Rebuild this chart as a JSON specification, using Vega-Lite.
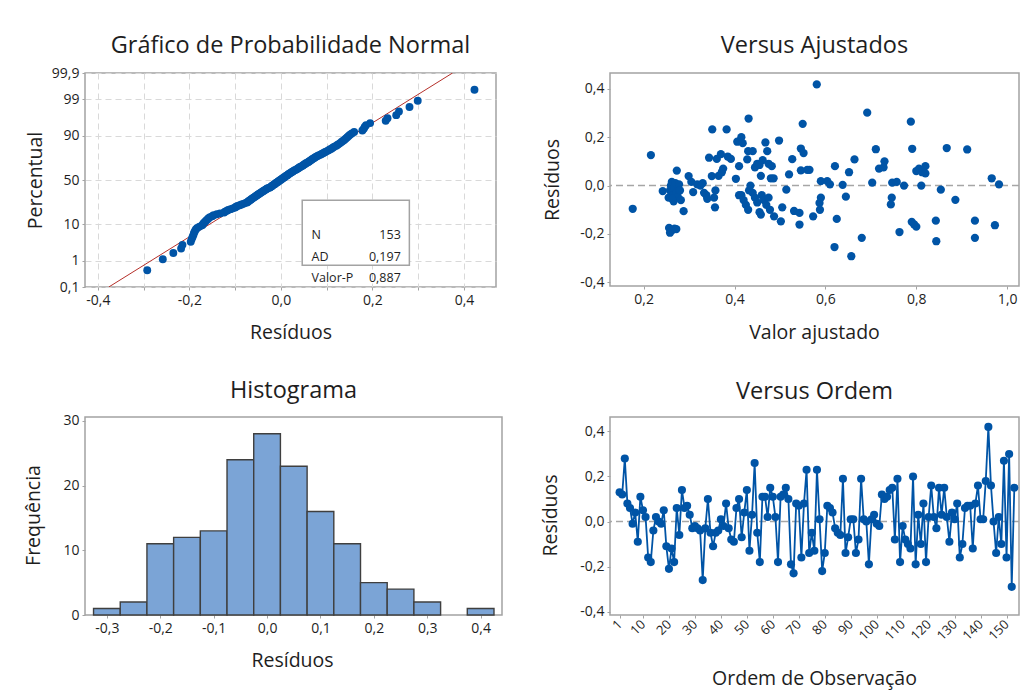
{
  "$schema": "https://vega.github.io/schema/vega-lite/v6.json",
  "background": "white",
  "padding": {"left": 22, "top": 32, "right": 5, "bottom": 5},
  "columns": 2,
  "bounds": "flush",
  "spacing": {"row": 130, "column": 108},
  "config": {
    "font": "Open Sans",
    "view": {"stroke": "#a3a3a3", "strokeWidth": 1.5},
    "axis": {"domain": false, "grid": false, "tickColor": "#a3a3a3", "tickSize": 3, "tickCount": 40, "labelFontSize": 14, "labelColor": "#1e1e1e", "labelPadding": 3, "labelFlush": false, "labelOverlap": false, "labelBound": false, "titleFontSize": 19.5, "titleFontWeight": "normal", "titleColor": "#1e1e1e", "titleBaseline": "alphabetic"},
    "title": {"fontSize": 23.5, "fontWeight": "normal", "color": "#1e1e1e", "frame": "group", "anchor": "middle", "offset": 11}
  },
  "datasets": {
    "hist": [
      {"x0": -0.325, "x1": -0.275, "n": 1},
      {"x0": -0.275, "x1": -0.225, "n": 2},
      {"x0": -0.225, "x1": -0.175, "n": 11},
      {"x0": -0.175, "x1": -0.125, "n": 12},
      {"x0": -0.125, "x1": -0.075, "n": 13},
      {"x0": -0.075, "x1": -0.025, "n": 24},
      {"x0": -0.025, "x1": 0.025, "n": 28},
      {"x0": 0.025, "x1": 0.075, "n": 23},
      {"x0": 0.075, "x1": 0.125, "n": 16},
      {"x0": 0.125, "x1": 0.175, "n": 11},
      {"x0": 0.175, "x1": 0.225, "n": 5},
      {"x0": 0.225, "x1": 0.275, "n": 4},
      {"x0": 0.275, "x1": 0.325, "n": 2},
      {"x0": 0.375, "x1": 0.425, "n": 1}
    ],
    "probline": [{"r": -0.376, "z": -3.0902}, {"r": 0.375, "z": 3.0902}],
    "prob": [
      {"r": -0.292, "z": -2.608}, {"r": -0.258, "z": -2.289}, {"r": -0.235, "z": -2.110}, {"r": -0.218, "z": -1.977}, {"r": -0.215, "z": -1.872},
      {"r": -0.197, "z": -1.786}, {"r": -0.195, "z": -1.710}, {"r": -0.193, "z": -1.643}, {"r": -0.191, "z": -1.583}, {"r": -0.190, "z": -1.529},
      {"r": -0.188, "z": -1.478}, {"r": -0.186, "z": -1.431}, {"r": -0.183, "z": -1.387}, {"r": -0.178, "z": -1.345}, {"r": -0.172, "z": -1.306},
      {"r": -0.170, "z": -1.269}, {"r": -0.168, "z": -1.233}, {"r": -0.165, "z": -1.199}, {"r": -0.163, "z": -1.166}, {"r": -0.160, "z": -1.134},
      {"r": -0.158, "z": -1.103}, {"r": -0.155, "z": -1.074}, {"r": -0.150, "z": -1.045}, {"r": -0.147, "z": -1.017}, {"r": -0.140, "z": -0.990},
      {"r": -0.133, "z": -0.964}, {"r": -0.124, "z": -0.938}, {"r": -0.122, "z": -0.913}, {"r": -0.118, "z": -0.889}, {"r": -0.115, "z": -0.865},
      {"r": -0.110, "z": -0.842}, {"r": -0.105, "z": -0.818}, {"r": -0.100, "z": -0.795}, {"r": -0.098, "z": -0.773}, {"r": -0.095, "z": -0.752},
      {"r": -0.090, "z": -0.730}, {"r": -0.086, "z": -0.708}, {"r": -0.082, "z": -0.688}, {"r": -0.078, "z": -0.667}, {"r": -0.074, "z": -0.647},
      {"r": -0.072, "z": -0.627}, {"r": -0.070, "z": -0.607}, {"r": -0.068, "z": -0.588}, {"r": -0.066, "z": -0.568}, {"r": -0.064, "z": -0.549},
      {"r": -0.062, "z": -0.530}, {"r": -0.060, "z": -0.512}, {"r": -0.058, "z": -0.493}, {"r": -0.056, "z": -0.475}, {"r": -0.054, "z": -0.457},
      {"r": -0.052, "z": -0.439}, {"r": -0.050, "z": -0.420}, {"r": -0.048, "z": -0.402}, {"r": -0.046, "z": -0.385}, {"r": -0.044, "z": -0.367},
      {"r": -0.042, "z": -0.350}, {"r": -0.040, "z": -0.333}, {"r": -0.038, "z": -0.315}, {"r": -0.036, "z": -0.298}, {"r": -0.034, "z": -0.281},
      {"r": -0.032, "z": -0.264}, {"r": -0.030, "z": -0.247}, {"r": -0.027, "z": -0.231}, {"r": -0.024, "z": -0.214}, {"r": -0.022, "z": -0.197},
      {"r": -0.020, "z": -0.180}, {"r": -0.019, "z": -0.164}, {"r": -0.017, "z": -0.148}, {"r": -0.015, "z": -0.131}, {"r": -0.013, "z": -0.115},
      {"r": -0.012, "z": -0.098}, {"r": -0.010, "z": -0.081}, {"r": -0.008, "z": -0.065}, {"r": -0.006, "z": -0.049}, {"r": -0.005, "z": -0.033},
      {"r": -0.003, "z": -0.016}, {"r": -0.001, "z": 0.0}, {"r": 0.001, "z": 0.016}, {"r": 0.002, "z": 0.033}, {"r": 0.004, "z": 0.049},
      {"r": 0.006, "z": 0.065}, {"r": 0.008, "z": 0.081}, {"r": 0.009, "z": 0.098}, {"r": 0.011, "z": 0.115}, {"r": 0.013, "z": 0.131},
      {"r": 0.015, "z": 0.148}, {"r": 0.016, "z": 0.164}, {"r": 0.018, "z": 0.180}, {"r": 0.020, "z": 0.197}, {"r": 0.022, "z": 0.214},
      {"r": 0.024, "z": 0.231}, {"r": 0.026, "z": 0.247}, {"r": 0.028, "z": 0.264}, {"r": 0.030, "z": 0.281}, {"r": 0.033, "z": 0.298},
      {"r": 0.035, "z": 0.315}, {"r": 0.037, "z": 0.333}, {"r": 0.039, "z": 0.350}, {"r": 0.041, "z": 0.367}, {"r": 0.043, "z": 0.385},
      {"r": 0.046, "z": 0.402}, {"r": 0.048, "z": 0.420}, {"r": 0.050, "z": 0.439}, {"r": 0.052, "z": 0.457}, {"r": 0.054, "z": 0.475},
      {"r": 0.056, "z": 0.493}, {"r": 0.059, "z": 0.512}, {"r": 0.061, "z": 0.530}, {"r": 0.063, "z": 0.549}, {"r": 0.065, "z": 0.568},
      {"r": 0.067, "z": 0.588}, {"r": 0.069, "z": 0.607}, {"r": 0.072, "z": 0.627}, {"r": 0.074, "z": 0.647}, {"r": 0.076, "z": 0.667},
      {"r": 0.079, "z": 0.688}, {"r": 0.082, "z": 0.708}, {"r": 0.086, "z": 0.730}, {"r": 0.089, "z": 0.752}, {"r": 0.092, "z": 0.773},
      {"r": 0.095, "z": 0.795}, {"r": 0.098, "z": 0.818}, {"r": 0.102, "z": 0.842}, {"r": 0.105, "z": 0.865}, {"r": 0.108, "z": 0.889},
      {"r": 0.111, "z": 0.913}, {"r": 0.114, "z": 0.938}, {"r": 0.117, "z": 0.964}, {"r": 0.121, "z": 0.990}, {"r": 0.124, "z": 1.017},
      {"r": 0.127, "z": 1.045}, {"r": 0.130, "z": 1.074}, {"r": 0.133, "z": 1.103}, {"r": 0.136, "z": 1.134}, {"r": 0.139, "z": 1.166},
      {"r": 0.142, "z": 1.199}, {"r": 0.145, "z": 1.233}, {"r": 0.148, "z": 1.269}, {"r": 0.151, "z": 1.306}, {"r": 0.155, "z": 1.345},
      {"r": 0.160, "z": 1.387}, {"r": 0.178, "z": 1.431}, {"r": 0.181, "z": 1.478}, {"r": 0.183, "z": 1.529}, {"r": 0.186, "z": 1.583},
      {"r": 0.195, "z": 1.643}, {"r": 0.229, "z": 1.710}, {"r": 0.233, "z": 1.786}, {"r": 0.252, "z": 1.872}, {"r": 0.258, "z": 1.977},
      {"r": 0.281, "z": 2.110}, {"r": 0.299, "z": 2.289}, {"r": 0.423, "z": 2.608}
    ],
    "fits": [
      {"f": 0.176, "r": -0.096}, {"f": 0.216, "r": 0.126}, {"f": 0.242, "r": -0.023}, {"f": 0.256, "r": -0.175}, {"f": 0.258, "r": -0.195},
      {"f": 0.262, "r": -0.185}, {"f": 0.268, "r": -0.178}, {"f": 0.272, "r": -0.18}, {"f": 0.255, "r": -0.05}, {"f": 0.258, "r": -0.02},
      {"f": 0.26, "r": 0.0}, {"f": 0.262, "r": 0.015}, {"f": 0.265, "r": -0.04}, {"f": 0.266, "r": -0.065}, {"f": 0.268, "r": -0.01},
      {"f": 0.27, "r": 0.01}, {"f": 0.272, "r": -0.03}, {"f": 0.275, "r": -0.045}, {"f": 0.278, "r": 0.005}, {"f": 0.28, "r": -0.02},
      {"f": 0.282, "r": -0.06}, {"f": 0.273, "r": 0.062}, {"f": 0.263, "r": -0.055}, {"f": 0.288, "r": -0.106}, {"f": 0.299, "r": 0.039},
      {"f": 0.305, "r": 0.015}, {"f": 0.309, "r": -0.027}, {"f": 0.318, "r": 0.005}, {"f": 0.325, "r": 0.0}, {"f": 0.33, "r": 0.01},
      {"f": 0.333, "r": -0.03}, {"f": 0.338, "r": -0.04}, {"f": 0.34, "r": -0.055}, {"f": 0.344, "r": 0.115}, {"f": 0.351, "r": 0.232},
      {"f": 0.35, "r": 0.039}, {"f": 0.357, "r": -0.09}, {"f": 0.355, "r": -0.05}, {"f": 0.358, "r": -0.02}, {"f": 0.361, "r": 0.11},
      {"f": 0.365, "r": 0.04}, {"f": 0.37, "r": 0.13}, {"f": 0.372, "r": 0.055}, {"f": 0.375, "r": 0.07}, {"f": 0.3826, "r": 0.232},
      {"f": 0.385, "r": 0.12}, {"f": 0.392, "r": 0.11}, {"f": 0.403, "r": 0.028}, {"f": 0.41, "r": 0.08}, {"f": 0.406, "r": 0.181},
      {"f": 0.415, "r": 0.2}, {"f": 0.41, "r": -0.04}, {"f": 0.418, "r": 0.175}, {"f": 0.431, "r": 0.277}, {"f": 0.43, "r": 0.142},
      {"f": 0.44, "r": 0.142}, {"f": 0.428, "r": 0.108}, {"f": 0.445, "r": 0.075}, {"f": 0.45, "r": 0.09}, {"f": 0.455, "r": 0.085},
      {"f": 0.458, "r": 0.04}, {"f": 0.462, "r": 0.105}, {"f": 0.472, "r": 0.142}, {"f": 0.475, "r": 0.09}, {"f": 0.48, "r": 0.03},
      {"f": 0.415, "r": -0.04}, {"f": 0.42, "r": -0.06}, {"f": 0.425, "r": -0.08}, {"f": 0.43, "r": -0.1}, {"f": 0.432, "r": -0.02},
      {"f": 0.435, "r": 0.0}, {"f": 0.44, "r": -0.03}, {"f": 0.445, "r": -0.05}, {"f": 0.45, "r": -0.07}, {"f": 0.458, "r": -0.12},
      {"f": 0.455, "r": -0.11}, {"f": 0.46, "r": -0.04}, {"f": 0.465, "r": -0.06}, {"f": 0.47, "r": -0.08}, {"f": 0.475, "r": -0.05},
      {"f": 0.478, "r": -0.1}, {"f": 0.487, "r": -0.127}, {"f": 0.498, "r": 0.186}, {"f": 0.502, "r": -0.148}, {"f": 0.505, "r": -0.09},
      {"f": 0.514, "r": -0.017}, {"f": 0.52, "r": 0.046}, {"f": 0.527, "r": 0.109}, {"f": 0.531, "r": -0.105}, {"f": 0.543, "r": -0.113},
      {"f": 0.543, "r": -0.161}, {"f": 0.546, "r": 0.153}, {"f": 0.55, "r": 0.255}, {"f": 0.552, "r": 0.134}, {"f": 0.546, "r": 0.063},
      {"f": 0.56, "r": 0.065}, {"f": 0.565, "r": 0.065}, {"f": 0.581, "r": 0.418}, {"f": 0.573, "r": -0.127}, {"f": 0.587, "r": -0.072},
      {"f": 0.59, "r": -0.05}, {"f": 0.588, "r": -0.1}, {"f": 0.59, "r": 0.018}, {"f": 0.604, "r": 0.018}, {"f": 0.61, "r": 0.005},
      {"f": 0.62, "r": -0.254}, {"f": 0.621, "r": 0.08}, {"f": 0.625, "r": -0.138}, {"f": 0.638, "r": 0.003}, {"f": 0.645, "r": -0.046},
      {"f": 0.652, "r": 0.055}, {"f": 0.657, "r": -0.292}, {"f": 0.664, "r": 0.108}, {"f": 0.68, "r": -0.216}, {"f": 0.692, "r": 0.301},
      {"f": 0.703, "r": 0.012}, {"f": 0.711, "r": 0.15}, {"f": 0.718, "r": 0.07}, {"f": 0.73, "r": 0.1}, {"f": 0.728, "r": 0.075},
      {"f": 0.747, "r": 0.012}, {"f": 0.757, "r": 0.015}, {"f": 0.773, "r": 0.0}, {"f": 0.746, "r": -0.05}, {"f": 0.744, "r": -0.078},
      {"f": 0.763, "r": -0.192}, {"f": 0.788, "r": 0.264}, {"f": 0.791, "r": 0.152}, {"f": 0.79, "r": -0.15}, {"f": 0.795, "r": -0.16},
      {"f": 0.8, "r": -0.17}, {"f": 0.8, "r": 0.06}, {"f": 0.806, "r": 0.07}, {"f": 0.813, "r": 0.055}, {"f": 0.82, "r": 0.08},
      {"f": 0.82, "r": 0.05}, {"f": 0.811, "r": 0.0}, {"f": 0.843, "r": -0.145}, {"f": 0.844, "r": -0.23}, {"f": 0.854, "r": -0.017},
      {"f": 0.867, "r": 0.155}, {"f": 0.886, "r": -0.059}, {"f": 0.912, "r": 0.149}, {"f": 0.929, "r": -0.145}, {"f": 0.929, "r": -0.216},
      {"f": 0.966, "r": 0.03}, {"f": 0.982, "r": 0.005}, {"f": 0.973, "r": -0.164}, {"f": 0.468, "r": 0.178}, {"f": 0.482, "r": 0.08},
      {"f": 0.486, "r": 0.03}
    ],
    "order": [
      {"k": 1, "r": 0.13}, {"k": 2, "r": 0.12}, {"k": 3, "r": 0.28}, {"k": 4, "r": 0.08}, {"k": 5, "r": 0.06},
      {"k": 6, "r": -0.01}, {"k": 7, "r": 0.04}, {"k": 8, "r": -0.09}, {"k": 9, "r": 0.11}, {"k": 10, "r": 0.05},
      {"k": 11, "r": 0.02}, {"k": 12, "r": -0.16}, {"k": 13, "r": -0.18}, {"k": 14, "r": -0.04}, {"k": 15, "r": 0.02},
      {"k": 16, "r": 0.0}, {"k": 17, "r": -0.01}, {"k": 18, "r": 0.05}, {"k": 19, "r": -0.11}, {"k": 20, "r": -0.21},
      {"k": 21, "r": -0.12}, {"k": 22, "r": -0.18}, {"k": 23, "r": 0.06}, {"k": 24, "r": -0.06}, {"k": 25, "r": 0.14},
      {"k": 26, "r": 0.06}, {"k": 27, "r": 0.07}, {"k": 28, "r": 0.03}, {"k": 29, "r": -0.03}, {"k": 30, "r": -0.02},
      {"k": 31, "r": -0.03}, {"k": 32, "r": -0.04}, {"k": 33, "r": -0.26}, {"k": 34, "r": -0.03}, {"k": 35, "r": 0.10},
      {"k": 36, "r": -0.05}, {"k": 37, "r": -0.11}, {"k": 38, "r": -0.05}, {"k": 39, "r": -0.04}, {"k": 40, "r": 0.01},
      {"k": 41, "r": -0.02}, {"k": 42, "r": 0.08}, {"k": 43, "r": -0.03}, {"k": 44, "r": -0.08}, {"k": 45, "r": -0.09},
      {"k": 46, "r": 0.06}, {"k": 47, "r": 0.10}, {"k": 48, "r": -0.07}, {"k": 49, "r": 0.04}, {"k": 50, "r": 0.14},
      {"k": 51, "r": -0.13}, {"k": 52, "r": 0.03}, {"k": 53, "r": 0.26}, {"k": 54, "r": -0.05}, {"k": 55, "r": -0.18},
      {"k": 56, "r": 0.11}, {"k": 57, "r": 0.11}, {"k": 58, "r": 0.02}, {"k": 59, "r": 0.15}, {"k": 60, "r": 0.11},
      {"k": 61, "r": 0.02}, {"k": 62, "r": -0.18}, {"k": 63, "r": 0.11}, {"k": 64, "r": 0.12}, {"k": 65, "r": 0.15},
      {"k": 66, "r": 0.10}, {"k": 67, "r": -0.19}, {"k": 68, "r": -0.23}, {"k": 69, "r": 0.08}, {"k": 70, "r": 0.07},
      {"k": 71, "r": -0.16}, {"k": 72, "r": 0.08}, {"k": 73, "r": 0.23}, {"k": 74, "r": -0.14}, {"k": 75, "r": -0.05},
      {"k": 76, "r": -0.13}, {"k": 77, "r": 0.23}, {"k": 78, "r": 0.01}, {"k": 79, "r": -0.22}, {"k": 80, "r": -0.14},
      {"k": 81, "r": 0.07}, {"k": 82, "r": 0.06}, {"k": 83, "r": 0.04}, {"k": 84, "r": -0.03}, {"k": 85, "r": -0.05},
      {"k": 86, "r": -0.06}, {"k": 87, "r": 0.19}, {"k": 88, "r": -0.14}, {"k": 89, "r": -0.07}, {"k": 90, "r": 0.01},
      {"k": 91, "r": 0.01}, {"k": 92, "r": -0.14}, {"k": 93, "r": -0.08}, {"k": 94, "r": 0.19}, {"k": 95, "r": 0.01},
      {"k": 96, "r": 0.0}, {"k": 97, "r": -0.19}, {"k": 98, "r": 0.01}, {"k": 99, "r": 0.03}, {"k": 100, "r": -0.01},
      {"k": 101, "r": -0.02}, {"k": 102, "r": 0.12}, {"k": 103, "r": 0.10}, {"k": 104, "r": 0.11}, {"k": 105, "r": 0.14},
      {"k": 106, "r": 0.15}, {"k": 107, "r": -0.08}, {"k": 108, "r": 0.19}, {"k": 109, "r": -0.18}, {"k": 110, "r": -0.02},
      {"k": 111, "r": -0.08}, {"k": 112, "r": -0.10}, {"k": 113, "r": -0.12}, {"k": 114, "r": 0.20}, {"k": 115, "r": -0.19},
      {"k": 116, "r": 0.03}, {"k": 117, "r": -0.10}, {"k": 118, "r": 0.08}, {"k": 119, "r": -0.18}, {"k": 120, "r": 0.02},
      {"k": 121, "r": 0.16}, {"k": 122, "r": 0.02}, {"k": 123, "r": -0.03}, {"k": 124, "r": 0.15}, {"k": 125, "r": 0.03},
      {"k": 126, "r": 0.15}, {"k": 127, "r": 0.02}, {"k": 128, "r": -0.09}, {"k": 129, "r": 0.04}, {"k": 130, "r": 0.01},
      {"k": 131, "r": 0.08}, {"k": 132, "r": -0.16}, {"k": 133, "r": -0.10}, {"k": 134, "r": 0.06}, {"k": 135, "r": 0.07},
      {"k": 136, "r": 0.07}, {"k": 137, "r": -0.12}, {"k": 138, "r": 0.08}, {"k": 139, "r": 0.16}, {"k": 140, "r": 0.01},
      {"k": 141, "r": 0.01}, {"k": 142, "r": 0.18}, {"k": 143, "r": 0.42}, {"k": 144, "r": 0.16}, {"k": 145, "r": 0.00},
      {"k": 146, "r": -0.14}, {"k": 147, "r": 0.02}, {"k": 148, "r": -0.10}, {"k": 149, "r": 0.27}, {"k": 150, "r": -0.16},
      {"k": 151, "r": 0.30}, {"k": 152, "r": -0.29}, {"k": 153, "r": 0.15}
    ]
  },
  "concat": [
    {
      "width": 411,
      "height": 214,
      "title": {"text": "Gráfico de Probabilidade Normal", "offset": 9},
      "layer": [
        {
          "data": {"name": "probline"},
          "mark": {"type": "line", "color": "#b5302a", "strokeWidth": 1, "clip": true},
          "encoding": {
            "x": {"field": "r", "type": "quantitative", "scale": {"domain": [-0.428, 0.47], "nice": false, "zero": false},
              "axis": {"values": [-0.4, -0.3, -0.2, -0.1, 0, 0.1, 0.2, 0.3, 0.4], "tickCount": 40, "grid": true, "gridColor": "#d9d9d9", "gridDash": [6, 4], "labelOverlap": false,
                "labelExpr": "abs(round(datum.value*10)) % 2 == 1 ? '' : (datum.value < -0.0001 ? '-' : '') + replace(format(abs(datum.value), '.1f'), '.', ',')",
                "title": "Resíduos", "titleX": 205.5, "titleY": 51}},
            "y": {"field": "z", "type": "quantitative", "scale": {"domain": [-3.0902, 3.0902], "nice": false, "zero": false},
              "axis": {"values": [-3.0902, -2.3263, -1.2816, 0, 1.2816, 2.3263, 3.0902], "tickCount": 40, "grid": true, "gridColor": "#d9d9d9", "gridDash": [6, 4], "labelOverlap": false,
                "labelExpr": "datum.value < -3 ? '0,1' : datum.value < -2 ? '1' : datum.value < -1 ? '10' : datum.value < 1 ? '50' : datum.value < 2 ? '90' : datum.value < 3 ? '99' : '99,9'",
                "title": "Percentual", "titleX": -44, "titleY": 107}}
          }
        },
        {
          "data": {"name": "prob"},
          "mark": {"type": "circle", "size": 62, "color": "#0054a6", "opacity": 1},
          "encoding": {
            "x": {"field": "r", "type": "quantitative"},
            "y": {"field": "z", "type": "quantitative"}
          }
        },
        {
          "data": {"values": [{}]},
          "mark": {"type": "rect", "fill": "white", "stroke": "#a3a3a3", "strokeWidth": 1.5},
          "encoding": {
            "x": {"datum": 0.0466}, "x2": {"datum": 0.2807},
            "y": {"datum": -0.587}, "y2": {"datum": -2.464}
          }
        },
        {
          "data": {"values": [{}]},
          "mark": {"type": "text", "align": "left", "baseline": "middle", "fontSize": 12.5, "lineHeight": 21.5, "color": "#1e1e1e", "text": ["N", "AD", "Valor-P"]},
          "encoding": {"x": {"datum": 0.067}, "y": {"datum": -1.589}}
        },
        {
          "data": {"values": [{}]},
          "mark": {"type": "text", "align": "right", "baseline": "middle", "fontSize": 12.5, "lineHeight": 21.5, "color": "#1e1e1e", "text": ["153", "0,197", "0,887"]},
          "encoding": {"x": {"datum": 0.262}, "y": {"datum": -1.589}}
        }
      ]
    },
    {
      "width": 409,
      "height": 213,
      "title": {"text": "Versus Ajustados", "offset": 16},
      "layer": [
        {
          "data": {"values": [{}]},
          "mark": {"type": "rule", "color": "#a6a6a6", "strokeWidth": 1.5, "strokeDash": [7, 4]},
          "encoding": {"y": {"datum": 0}}
        },
        {
          "data": {"name": "fits"},
          "mark": {"type": "circle", "size": 68, "color": "#0054a6", "opacity": 1},
          "encoding": {
            "x": {"field": "f", "type": "quantitative", "scale": {"domain": [0.126, 1.026], "nice": false, "zero": false},
              "axis": {"values": [0.2, 0.4, 0.6, 0.8, 1.0], "tickCount": 40, "labelOverlap": false,
                "labelExpr": "(datum.value < -0.0001 ? '-' : '') + replace(format(abs(datum.value), '.1f'), '.', ',')",
                "title": "Valor ajustado", "titleX": 204, "titleY": 52}},
            "y": {"field": "r", "type": "quantitative", "scale": {"domain": [-0.415, 0.465], "nice": false, "zero": false},
              "axis": {"values": [-0.4, -0.2, 0, 0.2, 0.4], "tickCount": 40, "labelOverlap": false,
                "labelExpr": "(datum.value < -0.0001 ? '-' : '') + replace(format(abs(datum.value), '.1f'), '.', ',')",
                "title": "Resíduos", "titleX": -52, "titleY": 106.5}}
          }
        }
      ]
    },
    {
      "width": 417,
      "height": 198,
      "title": {"text": "Histograma", "offset": 11},
      "data": {"name": "hist"},
      "mark": {"type": "bar", "fill": "#7ba4d6", "stroke": "#3f3f3f", "strokeWidth": 1.4},
      "encoding": {
        "x": {"field": "x0", "type": "quantitative", "scale": {"domain": [-0.341, 0.44], "nice": false, "zero": false},
          "axis": {"values": [-0.3, -0.2, -0.1, 0, 0.1, 0.2, 0.3, 0.4], "tickCount": 40, "labelOverlap": false,
            "labelExpr": "(datum.value < -0.0001 ? '-' : '') + replace(format(abs(datum.value), '.1f'), '.', ',')",
            "title": "Resíduos", "titleX": 207, "titleY": 51}},
        "x2": {"field": "x1"},
        "y": {"field": "n", "type": "quantitative", "scale": {"domain": [0, 30.6], "nice": false},
          "axis": {"values": [0, 10, 20, 30], "tickCount": 40, "format": "d", "labelOverlap": false, "title": "Frequência", "titleX": -45.5, "titleY": 98}},
        "y2": {"datum": 0}
      }
    },
    {
      "width": 409,
      "height": 198,
      "title": {"text": "Versus Ordem", "offset": 14},
      "layer": [
        {
          "data": {"values": [{}]},
          "mark": {"type": "rule", "color": "#a6a6a6", "strokeWidth": 1.5, "strokeDash": [7, 4]},
          "encoding": {"y": {"datum": 0}}
        },
        {
          "data": {"name": "order"},
          "mark": {"type": "line", "color": "#0054a6", "strokeWidth": 1.8},
          "encoding": {
            "x": {"field": "k", "type": "quantitative", "scale": {"domain": [-2.7, 154.8], "nice": false, "zero": false},
              "axis": {"values": [1, 10, 20, 30, 40, 50, 60, 70, 80, 90, 100, 110, 120, 130, 140, 150], "tickCount": 40, "labelOverlap": false, "labelAngle": -45, "labelAlign": "right", "labelBaseline": "middle", "labelPadding": 4, "labelFontSize": 13,
                "title": "Ordem de Observação", "titleX": 204, "titleY": 69}},
            "y": {"field": "r", "type": "quantitative", "scale": {"domain": [-0.415, 0.464], "nice": false, "zero": false},
              "axis": {"values": [-0.4, -0.2, 0, 0.2, 0.4], "tickCount": 40, "labelOverlap": false,
                "labelExpr": "(datum.value < -0.0001 ? '-' : '') + replace(format(abs(datum.value), '.1f'), '.', ',')",
                "title": "Resíduos", "titleX": -54, "titleY": 98}}
          }
        },
        {
          "data": {"name": "order"},
          "mark": {"type": "circle", "size": 66, "color": "#0054a6", "opacity": 1},
          "encoding": {
            "x": {"field": "k", "type": "quantitative"},
            "y": {"field": "r", "type": "quantitative"}
          }
        }
      ]
    }
  ]
}
